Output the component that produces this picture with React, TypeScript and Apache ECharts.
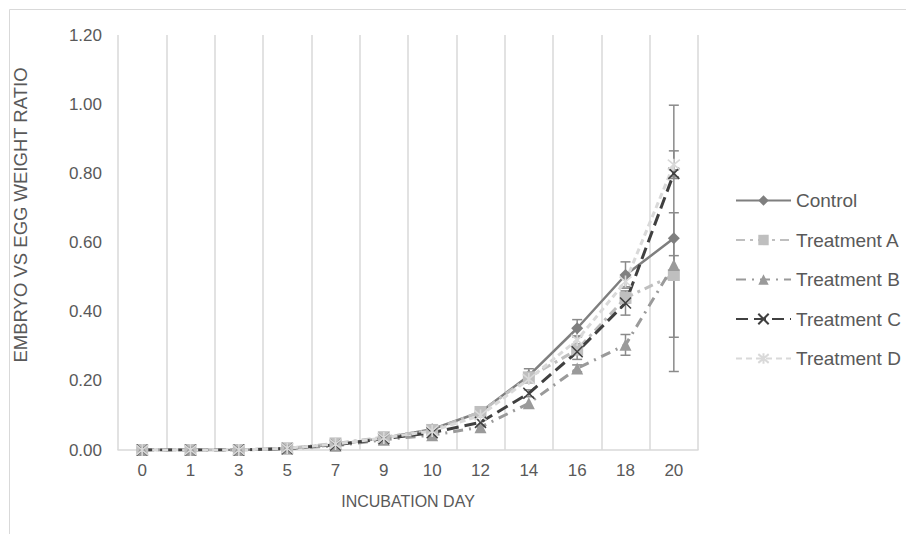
import React, { useEffect, useRef } from "react";
import * as echarts from "echarts";

const days = ["0", "1", "3", "5", "7", "9", "10", "12", "14", "16", "18", "20"];
const control = [0, 0, 0, 0.005, 0.015, 0.035, 0.06, 0.11, 0.215, 0.352, 0.506, 0.612];
const treatmentA = [0, 0, 0, 0.005, 0.019, 0.037, 0.058, 0.11, 0.21, 0.29, 0.44, 0.506];
const treatmentB = [0, 0, 0, 0.004, 0.012, 0.03, 0.043, 0.066, 0.135, 0.236, 0.304, 0.535];
const treatmentC = [0, 0, 0, 0.004, 0.015, 0.033, 0.05, 0.08, 0.164, 0.284, 0.425, 0.8];
const treatmentD = [0, 0, 0, 0.005, 0.017, 0.035, 0.055, 0.1, 0.205, 0.318, 0.487, 0.825];
const errControl = [0, 0, 0, 0, 0, 0, 0, 0, 0.02, 0.025, 0.038, 0.385];
const errA = [0, 0, 0, 0, 0, 0, 0, 0, 0, 0.012, 0.015, 0.18];
const errB = [0, 0, 0, 0, 0, 0, 0, 0, 0, 0.01, 0.03, 0.027];
const errC = [0, 0, 0, 0, 0, 0, 0, 0, 0.01, 0.022, 0.035, 0.01];
const errD = [0, 0, 0, 0, 0, 0, 0, 0, 0.01, 0.012, 0.015, 0.04];

const TEXT = "#595959";
const FONT = "'Liberation Sans', Arial, Helvetica, sans-serif";

const CROSS = "path://M0,0L10,10M10,0L0,10";
const STAR = "path://M5,0L5,10M0.8,0.8L9.2,9.2M9.2,0.8L0.8,9.2";

type Def = {
  name: string;
  data: number[];
  err: number[];
  color: string;
  dash: number[] | "solid";
  width: number;
  symbol: string;
  size: number;
  stroke?: boolean;
};

const defs: Def[] = [
  { name: "Control", data: control, err: errControl, color: "#7f7f7f", dash: "solid", width: 2.5, symbol: "diamond", size: 12 },
  { name: "Treatment A", data: treatmentA, err: errA, color: "#bfbfbf", dash: [9, 5, 3, 5], width: 3, symbol: "rect", size: 12 },
  { name: "Treatment B", data: treatmentB, err: errB, color: "#9a9a9a", dash: [10, 6, 2, 6], width: 3, symbol: "triangle", size: 12 },
  { name: "Treatment C", data: treatmentC, err: errC, color: "#404040", dash: [12, 6], width: 3, symbol: CROSS, size: 11, stroke: true },
  { name: "Treatment D", data: treatmentD, err: errD, color: "#d9d9d9", dash: [6, 4], width: 3, symbol: STAR, size: 12, stroke: true },
];

export default function App() {
  const ref = useRef<HTMLDivElement>(null);
  useEffect(() => {
    if (!ref.current) return;
    const chart = echarts.init(ref.current, undefined, { renderer: "svg" });

    const lineSeries = defs.map((d) => ({
      name: d.name,
      type: "line",
      data: d.data,
      z: 3,
      symbol: d.symbol,
      symbolSize: d.size,
      showSymbol: true,
      showAllSymbol: true,
      lineStyle: { color: d.color, width: d.width, type: d.dash, cap: "butt" },
      itemStyle: d.stroke
        ? { color: d.color, borderColor: d.color, borderWidth: 1.6 }
        : { color: d.color, borderWidth: 0 },
    }));

    const errSeries = defs.map((d) => ({
      name: d.name + " error",
      type: "custom",
      z: 2,
      silent: true,
      data: d.err
        .map((e, i) => (e > 0 ? [i, d.data[i] - e, d.data[i] + e] : null))
        .filter((v) => v !== null),
      renderItem: (params: any, api: any) => {
        const x = api.value(0);
        const lo = api.coord([x, api.value(1)]);
        const hi = api.coord([x, api.value(2)]);
        const w = 5;
        const st = { stroke: "#8a8a8a", lineWidth: 1.5 };
        return {
          type: "group",
          children: [
            { type: "line", shape: { x1: lo[0], y1: lo[1], x2: hi[0], y2: hi[1] }, style: st },
            { type: "line", shape: { x1: lo[0] - w, y1: lo[1], x2: lo[0] + w, y2: lo[1] }, style: st },
            { type: "line", shape: { x1: hi[0] - w, y1: hi[1], x2: hi[0] + w, y2: hi[1] }, style: st },
          ],
        };
      },
    }));

    chart.setOption({
      animation: false,
      backgroundColor: "#ffffff",
      textStyle: { fontFamily: FONT },
      grid: { left: 118, right: 208, top: 35, bottom: 84, containLabel: false },
      legend: {
        data: defs.map((d) => d.name),
        orient: "vertical",
        left: 735,
        top: 191,
        padding: 0,
        itemWidth: 55,
        itemHeight: 13,
        itemGap: 20.5,
        textStyle: { color: TEXT, fontSize: 19, fontFamily: FONT },
      },
      xAxis: {
        type: "category",
        data: days,
        boundaryGap: true,
        axisLine: { show: true, lineStyle: { color: "#d9d9d9", width: 1.5 } },
        axisTick: { show: false },
        splitLine: { show: true, lineStyle: { color: "#d9d9d9", width: 1.5 } },
        axisLabel: { color: TEXT, fontSize: 17, margin: 12, fontFamily: FONT },
      },
      yAxis: {
        type: "value",
        min: 0,
        max: 1.2,
        interval: 0.2,
        axisLine: { show: false },
        axisTick: { show: false },
        splitLine: { show: false },
        axisLabel: {
          color: TEXT,
          fontSize: 17,
          margin: 16,
          fontFamily: FONT,
          formatter: (v: number) => v.toFixed(2),
        },
      },
      graphic: [
        {
          type: "rect",
          shape: { x: 9.5, y: 9.5, width: 1000, height: 1000 },
          style: { fill: "none", stroke: "#d9d9d9", lineWidth: 1 },
          silent: true,
          z: -10,
        },
        {
          type: "text",
          x: 20,
          y: 215,
          rotation: Math.PI / 2,
          style: {
            text: "EMBRYO VS EGG WEIGHT RATIO",
            fill: TEXT,
            font: `18.5px ${FONT}`,
            align: "center",
            verticalAlign: "middle",
          },
        },
        {
          type: "text",
          x: 408,
          y: 501,
          style: {
            text: "INCUBATION DAY",
            fill: TEXT,
            font: `16px ${FONT}`,
            align: "center",
            verticalAlign: "middle",
          },
        },
      ],
      series: [...errSeries, ...lineSeries],
    });

    return () => chart.dispose();
  }, []);

  return <div ref={ref} style={{ width: 906, height: 534, position: "absolute", left: 0, top: 0 }} />;
}
